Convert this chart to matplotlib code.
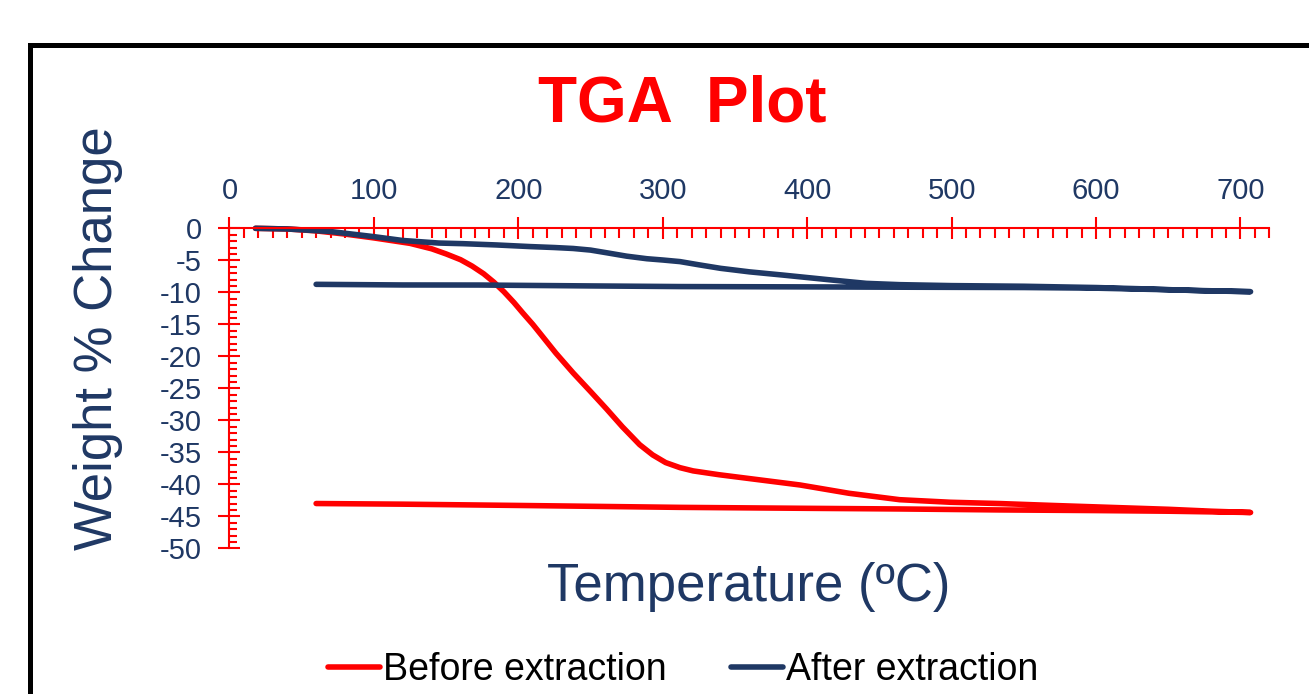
import matplotlib
matplotlib.use("Agg")
import matplotlib.pyplot as plt
from matplotlib.lines import Line2D
from matplotlib.ticker import MultipleLocator

plt.rcParams['font.family'] = ['Liberation Sans', 'DejaVu Sans']
plt.rcParams['axes.unicode_minus'] = False

# TGA data: heating run, then the cooling return line
before_heat_t = [18, 40, 60, 80, 100, 125, 140, 150, 160, 168, 176, 183, 190, 197, 203, 210, 215, 226, 238,
                 250, 261, 272, 284, 293, 302, 312, 321, 339, 360, 395, 429, 464, 499, 533, 570, 610, 650,
                 680, 707]
before_heat_w = [0, -0.1, -0.4, -0.9, -1.5, -2.35, -3.2, -4.0, -4.9, -5.9, -7.1, -8.4, -9.9, -11.6, -13.2,
                 -15.0, -16.4, -19.5, -22.6, -25.5, -28.2, -31.0, -33.8, -35.4, -36.6, -37.4, -37.9, -38.5,
                 -39.1, -40.1, -41.4, -42.4, -42.8, -43.0, -43.3, -43.6, -43.9, -44.2, -44.4]
before_cool_t = [707, 650, 600, 533, 464, 400, 312, 200, 120, 60]
before_cool_w = [-44.4, -44.2, -44.1, -44.0, -43.85, -43.75, -43.6, -43.3, -43.1, -43.0]

after_heat_t = [18, 40, 70, 100, 120, 145, 162, 185, 208, 225, 238, 250, 262, 275, 289, 300, 312, 325, 340,
                360, 383, 418, 441, 464, 500, 550, 600, 640, 672, 707]
after_heat_w = [0, -0.1, -0.5, -1.3, -1.9, -2.3, -2.4, -2.6, -2.85, -3.0, -3.15, -3.4, -3.85, -4.35, -4.75,
                -4.95, -5.2, -5.7, -6.25, -6.8, -7.3, -8.1, -8.6, -8.8, -8.95, -9.05, -9.25, -9.5, -9.75, -9.9]
after_cool_t = [707, 650, 600, 550, 464, 400, 312, 250, 173, 120, 60]
after_cool_w = [-9.9, -9.6, -9.35, -9.25, -9.2, -9.15, -9.1, -9.0, -8.86, -8.85, -8.75]

navy = '#1F3864'
red = '#FF0000'

fig = plt.figure(figsize=(13.09, 6.94), dpi=100)
ax = fig.add_axes([0.1753, 0.2099, 0.7944, 0.4611])

ax.plot(before_heat_t + before_cool_t, before_heat_w + before_cool_w,
        color=red, lw=4, clip_on=False, solid_capstyle='round', solid_joinstyle='round',
        label='Before extraction')
ax.plot(after_heat_t + after_cool_t, after_heat_w + after_cool_w,
        color=navy, lw=4, clip_on=False, solid_capstyle='round', solid_joinstyle='round',
        label='After extraction')

ax.set_xlim(0, 720)
ax.set_ylim(-50, 0)
ax.xaxis.tick_top()
ax.xaxis.set_major_locator(MultipleLocator(100))
ax.xaxis.set_minor_locator(MultipleLocator(10))
ax.yaxis.set_major_locator(MultipleLocator(5))
ax.yaxis.set_minor_locator(MultipleLocator(1))

for s in ['bottom', 'right']:
    ax.spines[s].set_visible(False)
for s in ['top', 'left']:
    ax.spines[s].set_color(red)
    ax.spines[s].set_linewidth(1.5)

ax.tick_params(axis='x', which='major', direction='inout', length=16, width=1.5, color=red,
               labelsize=21, labelcolor=navy, pad=9)
ax.tick_params(axis='x', which='minor', direction='in', length=7, width=1.5, color=red)
ax.tick_params(axis='y', which='major', direction='inout', length=16, width=1.5, color=red,
               labelsize=21, labelcolor=navy, pad=12)
ax.tick_params(axis='y', which='minor', direction='in', length=6, width=1.5, color=red)

fig.text(0.521, 1 - 104/694, 'TGA  Plot', color=red, fontsize=46, fontweight='bold',
         ha='center', va='center')
fig.text(98/1309, 1 - 338/694, 'Weight % Change', color=navy, fontsize=38,
         rotation=90, ha='center', va='center')
fig.text(749/1309, 1 - 587/694, 'Temperature (ºC)', color=navy, fontsize=38,
         ha='center', va='center')

leg = fig.legend(loc='center', bbox_to_anchor=(0.522, 0.034), ncol=2, frameon=False,
                 fontsize=27, handlelength=1.4, handletextpad=0.08, columnspacing=1.7)

# black frame round the chart area (runs past the right and bottom edges)
fx = 29.5/1309
fy = 1 - 45/694
fig.add_artist(Line2D([fx, fx], [fy, -0.05], color='black', lw=3.6, transform=fig.transFigure,
                      solid_capstyle='projecting'))
fig.add_artist(Line2D([fx, 1.05], [fy, fy], color='black', lw=3.6, transform=fig.transFigure,
                      solid_capstyle='projecting'))

fig.savefig('out.png', dpi=100)
